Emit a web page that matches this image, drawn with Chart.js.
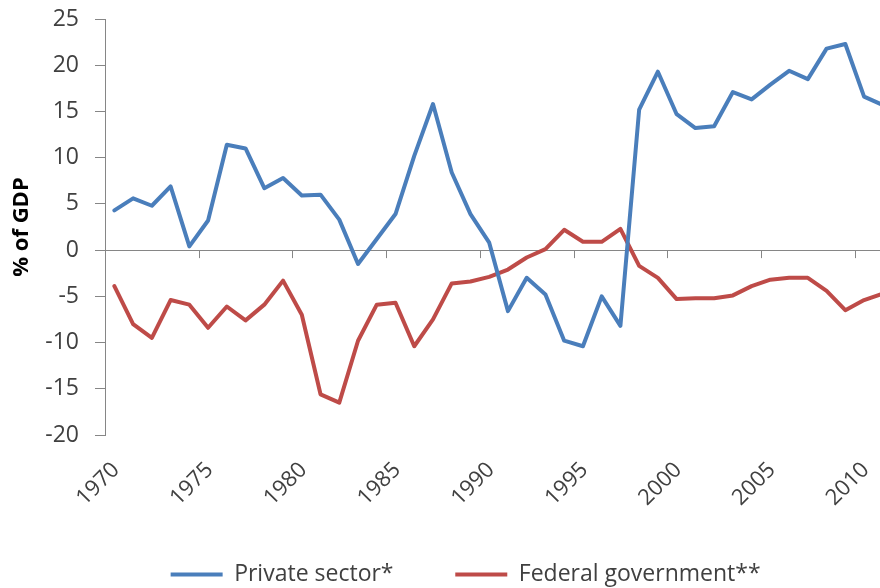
<!DOCTYPE html>
<html>
<head>
<meta charset="utf-8">
<script src="https://cdn.jsdelivr.net/npm/chart.js@4.4.0/dist/chart.umd.min.js"></script>
<style>
  html, body { margin: 0; padding: 0; background: #fff; }
</style>
</head>
<body>
<canvas id="balanceChart" width="880" height="588"></canvas>
<script>
// years shown on the chart (the picture is cut just after 2010)
const years = [1970, 1971, 1972, 1973, 1974, 1975, 1976, 1977, 1978, 1979,
               1980, 1981, 1982, 1983, 1984, 1985, 1986, 1987, 1988, 1989,
               1990, 1991, 1992, 1993, 1994, 1995, 1996, 1997, 1998, 1999,
               2000, 2001, 2002, 2003, 2004, 2005, 2006, 2007, 2008, 2009,
               2010, 2011];
const privateSector = [4.3, 5.6, 4.8, 6.9, 0.4, 3.2, 11.4, 11.0, 6.7, 7.8,
                       5.9, 6.0, 3.3, -1.5, 1.2, 3.9, 10.2, 15.8, 8.4, 3.9,
                       0.8, -6.6, -3.0, -4.8, -9.8, -10.4, -5.0, -8.2, 15.2, 19.3,
                       14.7, 13.2, 13.4, 17.1, 16.3, 17.9, 19.4, 18.5, 21.8, 22.3,
                       16.6, 15.7];
const federalGovernment = [-3.9, -8.0, -9.5, -5.4, -5.9, -8.4, -6.1, -7.6, -5.9, -3.3,
                           -7.0, -15.6, -16.5, -9.8, -5.9, -5.7, -10.4, -7.5, -3.6, -3.4,
                           -2.9, -2.1, -0.8, 0.1, 2.2, 0.9, 0.9, 2.3, -1.7, -3.0,
                           -5.3, -5.2, -5.2, -4.9, -3.9, -3.2, -3.0, -3.0, -4.4, -6.5,
                           -5.4, -4.7];
const yearLabels = ['1970', '1975', '1980', '1985', '1990', '1995', '2000', '2005', '2010'];

const axisGrey = '#868686';
const textGrey = '#404040';

Chart.defaults.font.family = '"Open Sans"';
Chart.defaults.font.size = 23;
Chart.defaults.color = textGrey;

// small tick marks hanging below the zero line, like the excel category axis
const zeroTicks = {
    id: 'zeroTicks',
    beforeDatasetsDraw(chart) {
        const x = chart.scales.x, y = chart.scales.y;
        const y0 = y.getPixelForValue(0);
        const c = chart.ctx;
        c.save();
        c.strokeStyle = axisGrey;
        c.lineWidth = 1;
        c.beginPath();
        x.ticks.forEach(t => {
            const px = Math.round(x.getPixelForValue(t.value)) + 0.5;
            c.moveTo(px, y0);
            c.lineTo(px, y0 + 8);
        });
        c.stroke();
        c.restore();
    }
};

const ctx = document.getElementById('balanceChart').getContext('2d');
const balanceChart = new Chart(ctx, {
    type: 'line',
    data: {
        datasets: [{
            label: 'Private sector*',
            data: years.map((yr, i) => ({ x: yr, y: privateSector[i] })),
            borderColor: '#4A7EBB',
            backgroundColor: '#4A7EBB',
            borderWidth: 4,
            pointRadius: 0,
            tension: 0,
            borderJoinStyle: 'round',
            borderCapStyle: 'round'
        }, {
            label: 'Federal government**',
            data: years.map((yr, i) => ({ x: yr, y: federalGovernment[i] })),
            borderColor: '#BE4B48',
            backgroundColor: '#BE4B48',
            borderWidth: 4,
            pointRadius: 0,
            tension: 0,
            borderJoinStyle: 'round',
            borderCapStyle: 'round'
        }]
    },
    options: {
        responsive: false,
        animation: false,
        layout: { padding: { top: 19, right: 0, bottom: -8, left: 0 } },
        plugins: {
            legend: {
                position: 'bottom',
                fullSize: false,
                labels: {
                    usePointStyle: true,
                    pointStyle: 'line',
                    pointStyleWidth: 52,
                    padding: 2,
                    color: textGrey,
                    font: { size: 23 },
                    // spread the two entries apart like the original legend
                    generateLabels: (chart) => {
                        const items = Chart.defaults.plugins.legend.labels.generateLabels(chart);
                        items[0].text += '\u00A0'.repeat(10);
                        items[1].text += '\u00A0'.repeat(9);
                        return items;
                    }
                }
            },
            tooltip: { enabled: false }
        },
        scales: {
            x: {
                type: 'linear',
                min: 1969.5,
                max: 2010.85,
                afterBuildTicks: (scale) => {
                    scale.ticks = yearLabels.map(l => ({ value: Number(l) - 0.5 }));
                },
                afterFit: (scale) => {
                    scale.height = 126;
                    scale.paddingRight = 0;
                    scale.paddingLeft = 0;
                },
                ticks: {
                    autoSkip: false,
                    minRotation: 45,
                    maxRotation: 45,
                    padding: 22,
                    labelOffset: 11,
                    font: { size: 22 },
                    callback: (value, index) => yearLabels[index]
                },
                grid: { display: false, drawTicks: false },
                border: { display: false }
            },
            y: {
                min: -20,
                max: 25,
                afterFit: (scale) => {
                    scale.width = 105;
                    scale.paddingTop = 0;
                    scale.paddingBottom = 0;
                },
                ticks: {
                    stepSize: 5,
                    padding: 16
                },
                grid: {
                    drawTicks: true,
                    tickLength: 10,
                    tickColor: axisGrey,
                    color: (c) => c.tick && c.tick.value === 0 ? axisGrey : 'rgba(0,0,0,0)'
                },
                border: { display: true, color: axisGrey, width: 1 },
                title: {
                    display: true,
                    text: '% of GDP',
                    color: '#000',
                    font: { size: 22, weight: 'bold' },
                    padding: { top: 9, bottom: 0 }
                }
            }
        }
    },
    plugins: [zeroTicks]
});
</script>
</body>
</html>
